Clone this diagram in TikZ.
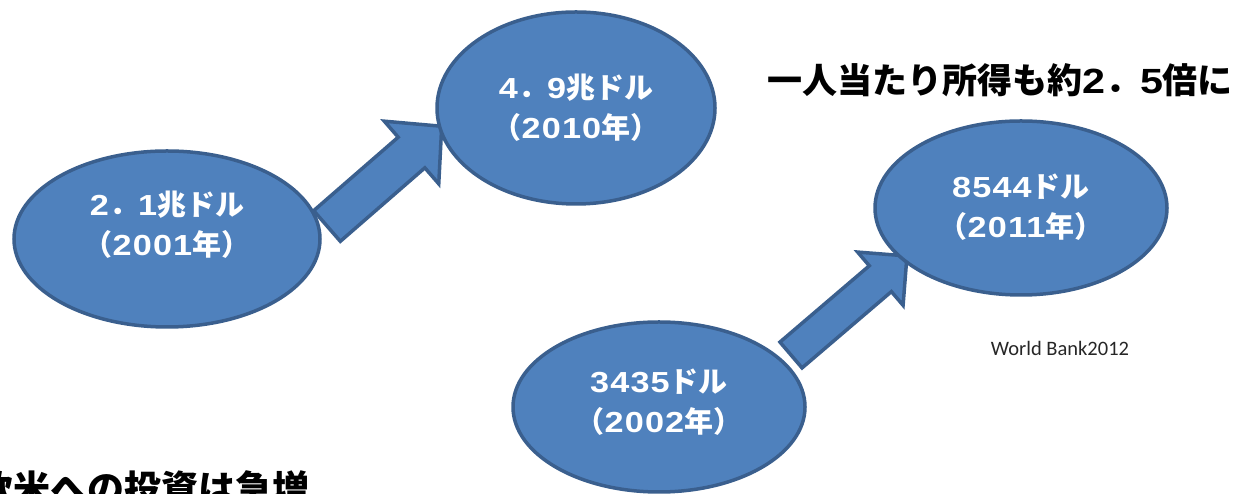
\documentclass[tikz,border=0pt]{standalone}
\usepackage{fontspec}
\newfontfamily\jpfont{Noto Sans CJK JP}
\newfontfamily\srcfont{Carlito}
\newfontfamily\numfont{Liberation Sans}[FakeStretch=1.18, LetterSpace=4]
\newcommand\nm[1]{{\numfont #1}}
\usetikzlibrary{shapes.geometric}
\definecolor{fillblue}{HTML}{4F81BD}
\definecolor{edgeblue}{HTML}{3A5F8E}
\begin{document}
\begin{tikzpicture}[x=1pt,y=1pt,
  blob/.style={ellipse, draw=edgeblue, fill=fillblue, line width=3.5pt, inner sep=0pt},
  blockarrow/.style={draw=edgeblue, fill=fillblue, line width=3.5pt, line join=miter},
  intext/.style={text=white, font=\jpfont\bfseries\fontsize{29}{40}\selectfont, align=center, inner sep=0pt},
  headline/.style={text=black, font=\jpfont\bfseries\fontsize{35}{40}\selectfont, inner sep=0pt},
  source/.style={text=black!85, font=\srcfont\fontsize{20.5}{24}\selectfont, inner sep=0pt}]
\useasboundingbox (0,0) rectangle (1241,494);
\clip (0,0) rectangle (1241,494);
% arrow tails
\coordinate (a1) at (327,268);
\coordinate (a2) at (791,139);
% block arrows (drawn beneath the ellipses)
\begin{scope}[shift={(a1)}, rotate=41]
  \draw[blockarrow] (0,-20.3) -- (112,-20.3) -- (112,-41.5) -- (152,0) -- (112,41.5) -- (112,20.3) -- (0,20.3) -- cycle;
\end{scope}
\begin{scope}[shift={(a2)}, rotate=40.5]
  \draw[blockarrow] (0,-17) -- (117.5,-17) -- (117.5,-35) -- (152.5,0) -- (117.5,35) -- (117.5,17) -- (0,17) -- cycle;
\end{scope}
% ellipses
\node[blob, minimum width=306pt, minimum height=176pt] (e1) at (167,255) {};
\node[blob, minimum width=278pt, minimum height=192pt] (e2) at (576,386) {};
\node[blob, minimum width=292pt, minimum height=174pt] (e3) at (1021,286) {};
\node[blob, minimum width=292pt, minimum height=170pt] (e4) at (659,87) {};
% texts
\node[intext] (t1) at (167,269) {\nm{2}．\nm{1}兆ドル\\（\nm{2001}年）};
\node[intext] (t2) at (576,386) {\nm{4}．\nm{9}兆ドル\\（\nm{2010}年）};
\node[intext] (t3) at (1021,287) {\nm{8544}ドル\\（\nm{2011}年）};
\node[intext] (t4) at (659,92) {\nm{3435}ドル\\（\nm{2002}年）};
\node[headline] (head) at (1000,414) {一人当たり所得も約\nm{2}．\nm{5}倍に};
\node[source] (src) at (1060,146) {World Bank2012};
\node[headline, font=\jpfont\bfseries\fontsize{37}{40}\selectfont, anchor=base west] (bottom) at (-24,-9) {欧米への投資は急増};
\end{tikzpicture}
\end{document}
